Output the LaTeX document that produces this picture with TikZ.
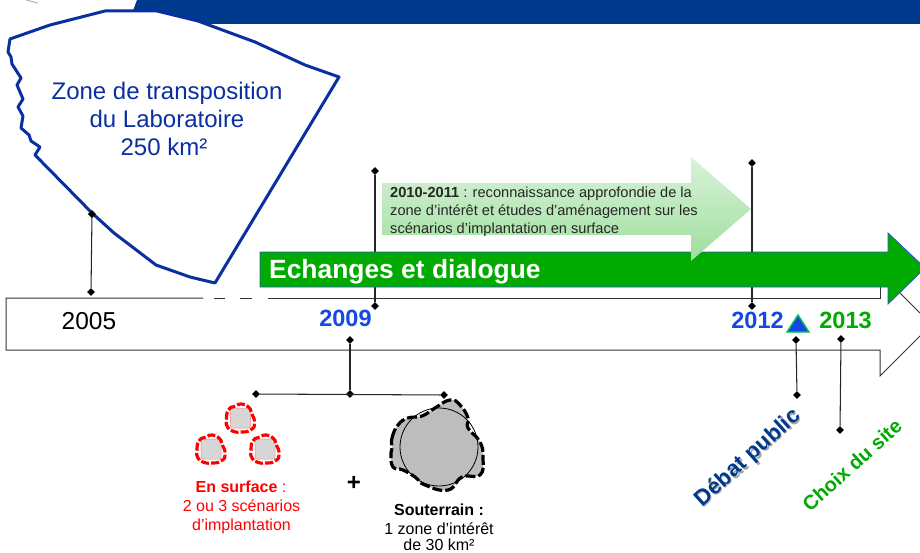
\documentclass[tikz,border=0pt]{standalone}
\usepackage{fontspec}
\setmainfont{Liberation Sans}
\usetikzlibrary{shapes.geometric}
\definecolor{bandblue}{HTML}{003A8C}
\definecolor{zoneblue}{HTML}{0A2FA0}
\definecolor{yearblue}{HTML}{1548E0}
\definecolor{green1}{HTML}{00AA00}
\definecolor{outblue}{HTML}{2A55D0}
\definecolor{redz}{HTML}{FF0000}
\tikzset{
  x=1pt,y=-1pt,
  fs/.style={font=\fontsize{#1}{#1}\selectfont},
  fsb/.style={font=\fontsize{#1}{#1}\selectfont\bfseries},
  tick/.style={diamond,fill=black,inner sep=0pt,minimum width=8pt,minimum height=8pt},
  conn/.style={draw=black!85,line width=1.05pt},
  tline/.style={draw=black!80,line width=1pt},
  redring/.style={draw=redz,fill=none,line width=3.2pt,dash pattern=on 8pt off 2.2pt,line join=round},
  year/.style={fsb=23.5,inner sep=0pt,anchor=base},
  plain/.style={inner sep=0pt,align=center,anchor=base},
  lt/.style={anchor=base west,inner sep=0pt,fs=14.6,text=black!85},
}
\begin{document}
\begin{tikzpicture}
\useasboundingbox (0,0) rectangle (920,553);
\clip (0,0) rectangle (920,553);
% top band
\fill[bandblue] (137,0) -- (128,24) -- (920,24) -- (920,0) -- cycle;
\draw[black!30,line width=1pt] (26,0) -- (38,3);
% timeline arrow
\fill[white] (6,298) -- (880,298) -- (880,260) -- (960,336) -- (880,376) -- (880,350) -- (6,350) -- cycle;
\draw[tline] (203,298) -- (6,298) -- (6,350) -- (880,350) -- (880,376) -- (922,334);
\draw[tline] (214,298) -- (225,298);
\draw[tline] (240,298) -- (252,298);
\draw[tline] (268,298) -- (880,298) -- (880,280);
\draw[tline] (900,293) -- (922,315);
% zone polygon
\node[tick] (t1) at (92,214) {};
\node[tick] (t2) at (91,292) {};
\draw[draw=zoneblue,line width=3pt,fill=white,line join=round]
 (10,39) -- (8,52) -- (11,57) -- (12,64) -- (21,78) -- (17,85) -- (23,99) -- (18,107) -- (23,116) -- (21,128) -- (29,135) -- (31,141) -- (40,147) -- (35,155) -- (92,213) -- (114,233) -- (156,265) -- (190,277) -- (215,283) -- (339,77) -- (305,65) -- (255,42) -- (198,21) -- (157,11) -- (105,11) -- (50,25) -- cycle;
\node[tick] at (t1) {};
\draw[conn] (t1) -- (t2);
\node[plain,fs=24,text=zoneblue] (zone) at (167,99.5) {Zone de transposition};
\node[plain,fs=24,text=zoneblue] (zone2) at (167,128) {du Laboratoire};
\node[plain,fs=24,text=zoneblue] (zone3) at (164,156) {250 km²};
% vertical ticks behind the green arrow
\node[tick] (a1) at (375,171) {};
\node[tick] (a2) at (375,306) {};
\draw[conn] (a1) -- (a2);
\node[tick] (b1) at (752,163) {};
\node[tick] (b2) at (752,306) {};
\draw[conn] (b1) -- (b2);
% green arrow
\draw[fill=green1,draw=outblue,line width=0.9pt] (260,252) -- (888,252) -- (888,233) -- (925,268) -- (888,304) -- (888,287) -- (260,287) -- cycle;
\node[anchor=base west,inner sep=0pt,fsb=26.4,text=white] (dialog) at (269,278.5) {Echanges et dialogue};
% light arrow
\shade[top color=green1!15!white,bottom color=green1!38!white]
 (382,183) -- (691,183) -- (691,157) -- (751,209) -- (691,261) -- (691,235) -- (382,235) -- cycle;
\node[lt] (l1) at (390,197.5) {\textbf{2010-2011} : reconnaissance approfondie de la};
\node[lt] (l2) at (390,215.5) {zone d’intérêt et études d’aménagement sur les};
\node[lt] (l3) at (390,233.5) {scénarios d’implantation en surface};
% years
\node[plain,fs=24.5] (y2005) at (89,329.5) {2005};
\node[year,text=yearblue] (y2009) at (345.5,326) {2009};
\node[year,text=yearblue] (y2012) at (757.5,328) {2012};
\node[year,text=green1] (y2013) at (845.5,328) {2013};
\draw[fill=yearblue,draw=green1!70!cyan,line width=1.4pt] (798,315) -- (809,332) -- (787,332) -- cycle;
% lower connectors
\node[tick] (c1) at (350,340) {};
\node[tick] (c2) at (350,394) {};
\node[tick] (c3) at (256,394) {};
\node[tick] (c4) at (444,395) {};
\draw[conn] (c1) -- (c2);
\draw[conn] (c3) -- (c4);
\node[tick] (d1) at (796,340) {};
\node[tick] (d2) at (797,395) {};
\draw[conn] (d1) -- (d2);
\node[tick] (e1) at (841,339) {};
\node[tick] (e2) at (840,430) {};
\draw[conn] (e1) -- (e2);
% red zones
\foreach \cx/\cy in {240.5/418,211/449,265/449}{
  \begin{scope}[shift={(\cx,\cy)}]
  \fill[black!16,draw=redz!50!white,line width=0.5pt,rounded corners=2pt] (-10,-10) rectangle (10,10);
  \draw[redring] plot[smooth cycle,tension=1] coordinates {(-14,2) (-12,-8) (-5,-12) (1,-14) (8,-11) (11,-5) (14,5) (10,12) (0,14) (-8,13) (-13,9)};
  \end{scope}
}
\node[plain,fs=16,text=redz] (rt0) at (241,492) {\textbf{En surface} :};
\node[plain,fs=16,text=redz] (rt1) at (241.5,511) {2 ou 3 scénarios};
\node[plain,fs=16,text=redz] (rt2) at (241.5,530) {d’implantation};
\node[plain,fsb=24] (plus) at (354,490) {+};
% underground
\draw[fill=black!26,draw=black,line width=3.2pt,dash pattern=on 10pt off 3pt,line join=round]
 plot[smooth cycle,tension=0.8] coordinates {(392,448) (392,438) (398,425) (408,418) (422,416) (435,408) (450,400) (460,405) (468,418) (468,428) (480,442) (483,458) (480,475) (462,477) (448,490) (425,485) (415,477) (403,470) (393,467) (391,455)};
\draw[black,line width=0.8pt] (439,447) circle[radius=39];
\node[plain,fs=16] (ut0) at (439,515) {\textbf{Souterrain :}};
\node[plain,fs=16] (ut1) at (439,534) {1 zone d’intérêt};
\node[plain,fs=16] (ut2) at (439,550) {de 30 km²};
% rotated labels
\node[inner sep=0pt,fsb=22.3,text=black!35,rotate=42] (dps) at (749.5,459.5) {Débat public};
\node[inner sep=0pt,fsb=22.3,text=bandblue,rotate=42] (dp) at (748,458) {Débat public};
\node[inner sep=0pt,fsb=20,text=green1,rotate=42] (cs) at (852,465) {Choix du site};
\end{tikzpicture}
\end{document}
